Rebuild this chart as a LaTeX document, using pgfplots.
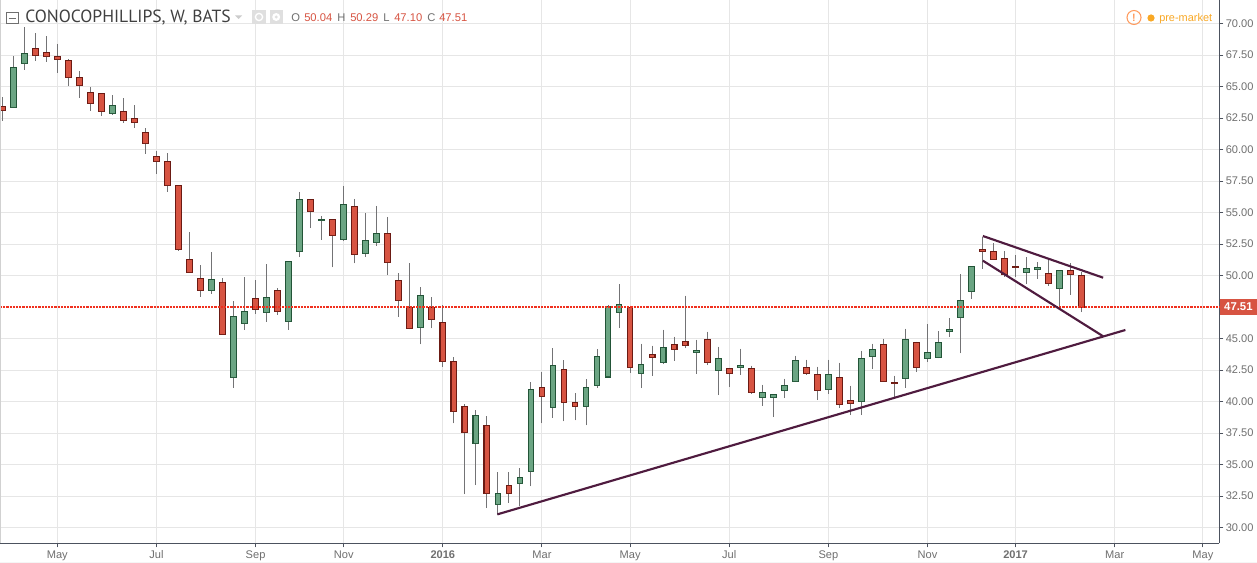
\documentclass[border=0pt]{standalone}
\usepackage{fontspec}
\setmainfont{Liberation Sans}
\newfontfamily\titlefont{PT Sans}
\usepackage{pgfplots}
\usepgfplotslibrary{statistics}
\pgfplotsset{compat=1.18}
\definecolor{upfill}{HTML}{6BA583}
\definecolor{upline}{HTML}{225437}
\definecolor{dnfill}{HTML}{D75442}
\definecolor{dnline}{HTML}{6B1A13}
\definecolor{wick}{HTML}{737375}
\definecolor{gridc}{HTML}{E6E6E6}
\definecolor{axisc}{HTML}{4C525E}
\definecolor{labc}{HTML}{6F6F6F}
\definecolor{trend}{HTML}{4F1B3F}
\definecolor{lastprice}{HTML}{F0301E}
\definecolor{gold}{HTML}{F9A825}
\definecolor{iconc}{HTML}{FF9A5C}
\newcommand{\U}[5]{\addplot[boxplot prepared={draw direction=y,draw position=#1,lower whisker=#4,lower quartile=#2,median=#2,upper quartile=#5,upper whisker=#3},
  draw=upline,fill=upfill,line width=0.8pt,boxplot/every whisker/.style={draw=wick,line width=0.75pt},boxplot/every median/.style={draw=none}] coordinates {};}
\newcommand{\D}[5]{\addplot[boxplot prepared={draw direction=y,draw position=#1,lower whisker=#4,lower quartile=#5,median=#5,upper quartile=#2,upper whisker=#3},
  draw=dnline,fill=dnfill,line width=0.8pt,boxplot/every whisker/.style={draw=wick,line width=0.75pt},boxplot/every median/.style={draw=none}] coordinates {};}
\pgfplotsset{boxplot/box extend=0.52,boxplot/whisker extend=0}
\begin{document}
\begin{tikzpicture}
\path[use as bounding box,fill=white] (0pt,0pt) rectangle (942.75pt,-422.25pt);
\begin{axis}[
  at={(0pt,-407.475pt)},anchor=south west,
  scale only axis,width=914.6pt,height=407.475pt,
  xmin=-0.204,xmax=110.51,ymin=28.76,ymax=71.88,
  axis x line*=bottom,axis y line*=right,
  axis line style={draw=axisc,line width=0.8pt,-},
  xtick={5,14,23,31,40,49,57,66,75,84,92,101,109},
  xticklabels={May,Jul,Sep,Nov,\textbf{2016},Mar,May,Jul,Sep,Nov,\textbf{2017},Mar,May},
  ytick={30,32.5,35,37.5,40,42.5,45,50,52.5,55,57.5,60,62.5,65,67.5,70},
  yticklabel style={/pgf/number format/fixed,/pgf/number format/fixed zerofill,/pgf/number format/precision=2,/pgf/number format/assume math mode=true},
  scaled y ticks=false,
  tick label style={font=\fontsize{8.3}{10}\selectfont,text=labc},
  tick style={draw=axisc,line width=0.75pt},
  tick align=outside,major tick length=3pt,
  xticklabel style={yshift=1pt},
  yticklabel style={xshift=-1.8pt},
  grid=major,grid style={draw=gridc,line width=0.75pt},
  clip=false,
]
\D{0}{63.44}{64.18}{62.30}{63.10}
\U{1}{63.36}{67.43}{63.36}{66.53}
\U{2}{66.85}{69.71}{66.35}{67.65}
\D{3}{68.04}{69.26}{67.06}{67.49}
\D{4}{67.72}{69.02}{66.98}{67.38}
\D{5}{67.41}{68.39}{66.11}{67.14}
\D{6}{67.09}{67.17}{65.08}{65.71}
\D{7}{65.74}{66.24}{64.13}{65.08}
\D{8}{64.55}{64.95}{63.10}{63.68}
\D{9}{64.47}{64.47}{62.70}{63.04}
\U{10}{62.88}{64.31}{62.78}{63.52}
\D{11}{63.04}{64.07}{62.14}{62.33}
\D{12}{62.49}{63.52}{61.75}{62.17}
\D{13}{61.38}{61.69}{59.68}{60.50}
\D{14}{59.47}{59.87}{58.10}{59.07}
\D{15}{59.07}{59.71}{56.67}{57.17}
\D{16}{57.17}{57.17}{51.98}{52.09}
\D{17}{51.30}{53.44}{50.26}{50.26}
\D{18}{49.79}{50.82}{48.33}{48.84}
\U{19}{48.84}{51.85}{48.57}{49.71}
\D{20}{49.47}{49.79}{45.34}{45.34}
\U{21}{41.93}{47.96}{41.11}{46.77}
\U{22}{46.22}{49.87}{45.69}{47.17}
\D{23}{48.20}{49.63}{46.98}{47.33}
\U{24}{47.09}{50.90}{46.35}{48.28}
\D{25}{48.84}{49.00}{46.90}{47.17}
\U{26}{46.38}{51.14}{45.69}{51.14}
\U{27}{51.90}{56.66}{51.47}{56.03}
\D{28}{56.03}{56.03}{53.78}{55.12}
\U{29}{54.40}{54.72}{52.87}{54.46}
\D{30}{54.48}{54.48}{50.65}{53.21}
\U{31}{52.90}{57.13}{52.79}{55.67}
\D{32}{55.52}{56.10}{50.97}{51.71}
\U{33}{51.79}{54.96}{51.52}{52.82}
\U{34}{52.66}{55.54}{52.39}{53.37}
\D{35}{53.37}{54.67}{50.09}{51.07}
\D{36}{49.64}{50.20}{46.76}{48.06}
\D{37}{47.50}{50.99}{45.73}{45.83}
\U{38}{45.91}{49.09}{44.54}{48.45}
\D{39}{47.50}{48.29}{45.81}{46.55}
\D{40}{46.31}{47.66}{42.79}{43.21}
\D{41}{43.21}{43.53}{38.27}{39.25}
\D{42}{39.64}{39.80}{32.66}{37.58}
\U{43}{36.71}{39.33}{33.37}{38.93}
\D{44}{38.13}{38.85}{31.55}{32.74}
\U{45}{31.87}{34.40}{30.99}{32.74}
\D{46}{33.37}{34.40}{31.97}{32.74}
\U{47}{33.53}{34.72}{31.73}{34.01}
\U{48}{34.48}{41.55}{33.27}{40.99}
\D{49}{41.15}{42.34}{38.27}{40.44}
\U{50}{39.56}{44.25}{38.74}{42.90}
\D{51}{42.58}{43.29}{38.43}{39.96}
\D{52}{39.96}{40.67}{38.51}{39.64}
\U{53}{39.64}{41.79}{38.11}{41.15}
\U{54}{41.31}{44.17}{41.12}{43.61}
\U{55}{41.96}{47.68}{41.96}{47.52}
\U{56}{47.06}{49.31}{45.85}{47.70}
\D{57}{47.46}{47.62}{42.28}{42.70}
\U{58}{42.22}{44.60}{41.08}{42.94}
\D{59}{43.73}{44.44}{42.04}{43.49}
\U{60}{43.10}{45.71}{42.99}{44.29}
\D{61}{44.52}{45.16}{43.23}{44.13}
\D{62}{44.76}{48.41}{44.26}{44.44}
\U{63}{43.89}{44.92}{42.20}{44.05}
\D{64}{44.92}{45.56}{42.91}{43.10}
\U{65}{42.46}{44.37}{40.53}{43.41}
\D{66}{42.62}{42.70}{41.16}{42.22}
\U{67}{42.70}{44.21}{42.12}{42.86}
\D{68}{42.62}{42.86}{40.61}{40.71}
\U{69}{40.32}{41.35}{39.66}{40.71}
\U{70}{40.32}{40.56}{38.78}{40.56}
\U{71}{40.87}{41.83}{40.29}{41.27}
\U{72}{41.59}{43.65}{41.59}{43.25}
\D{73}{42.70}{43.33}{42.12}{42.22}
\D{74}{42.14}{42.78}{40.13}{40.87}
\U{75}{40.95}{43.33}{40.61}{42.14}
\D{76}{41.90}{43.10}{39.50}{39.76}
\D{77}{40.08}{41.27}{38.94}{39.84}
\U{78}{40.00}{44.05}{38.94}{43.41}
\U{79}{43.57}{44.60}{42.59}{44.13}
\D{80}{44.52}{45.00}{41.59}{41.59}
\D{81}{41.51}{42.06}{40.32}{41.43}
\U{82}{41.83}{45.79}{41.11}{44.92}
\D{83}{44.68}{44.76}{42.35}{42.70}
\U{84}{43.44}{46.14}{43.17}{43.92}
\U{85}{43.52}{45.58}{43.44}{44.71}
\U{86}{45.58}{46.61}{45.16}{45.74}
\U{87}{46.69}{50.11}{43.84}{48.04}
\U{88}{48.76}{50.74}{48.17}{50.74}
\D{89}{52.09}{53.10}{50.56}{51.93}
\D{90}{51.93}{52.57}{51.30}{51.30}
\D{91}{51.38}{51.93}{49.92}{50.11}
\D{92}{50.74}{51.61}{49.92}{50.66}
\U{93}{50.26}{51.46}{49.37}{50.58}
\U{94}{50.50}{51.06}{49.76}{50.66}
\D{95}{50.19}{51.30}{49.21}{49.39}
\U{96}{48.99}{50.42}{47.33}{50.42}
\D{97}{50.42}{50.98}{48.49}{50.11}
\D{98}{50.04}{50.29}{47.10}{47.51}
% last price
\addplot[draw=lastprice,line width=1.1pt,dash pattern=on 1.6pt off 0.8pt] coordinates {(-0.204,47.51)(110.51,47.51)};
% trend lines
\addplot[draw=trend,line width=1.6pt] coordinates {(44.96,31.06)(101.97,45.69)};
\addplot[draw=trend,line width=1.6pt] coordinates {(89.03,53.15)(99.95,49.84)};
\addplot[draw=trend,line width=1.6pt] coordinates {(89.03,51.19)(99.95,45.19)};
\node[anchor=west,fill=dnfill,text=white,inner xsep=2.2pt,inner ysep=0pt,minimum height=11.8pt,minimum width=28pt,font=\fontsize{8.5}{10}\selectfont\bfseries] at (axis cs:110.51,47.51) {47.51};
\end{axis}
\begin{scope}[x=0.75pt,y=-0.75pt]
\fill[black!4] (0,561.7) rectangle (1257,563);
\draw[draw=gridc!80!gray,line width=0.9pt] (0.5,0) -- (0.5,543);
\draw[draw=labc,line width=0.65pt] (6.5,12.5) rectangle (18,23.5);
\draw[draw=labc,line width=0.65pt] (8.5,18) -- (16,18);
\node[anchor=base west,inner sep=0pt,text=black!75,font=\titlefont\fontsize{13.2}{15}\selectfont] at (25,23) {CONOCOPHILLIPS, W, BATS};
\fill[gray!40] (235,15.5) -- (242,15.5) -- (238.5,19) -- cycle;
\fill[gray!25] (252,10) rectangle (266,24);
\fill[gray!25] (269.5,10) rectangle (283,24);
\draw[white,line width=1pt] (259,17) circle (3.6);
\fill[white] (276.2,17) circle (4);
\fill[gray!25] (276.2,17) circle (1.6);
\node[anchor=base west,inner sep=0pt,font=\fontsize{8.4}{11}\selectfont,text=labc] at (291,22) {O};
\node[anchor=base west,inner sep=0pt,font=\fontsize{8.4}{11}\selectfont,text=dnfill] at (304,22) {50.04};
\node[anchor=base west,inner sep=0pt,font=\fontsize{8.4}{11}\selectfont,text=labc] at (337,22) {H};
\node[anchor=base west,inner sep=0pt,font=\fontsize{8.4}{11}\selectfont,text=dnfill] at (350,22) {50.29};
\node[anchor=base west,inner sep=0pt,font=\fontsize{8.4}{11}\selectfont,text=labc] at (383,22) {L};
\node[anchor=base west,inner sep=0pt,font=\fontsize{8.4}{11}\selectfont,text=dnfill] at (394,22) {47.10};
\node[anchor=base west,inner sep=0pt,font=\fontsize{8.4}{11}\selectfont,text=labc] at (427,22) {C};
\node[anchor=base west,inner sep=0pt,font=\fontsize{8.4}{11}\selectfont,text=dnfill] at (439,22) {47.51};
\draw[iconc,line width=0.8pt] (1134,17.5) circle (7);
\node[inner sep=0pt,text=iconc,font=\fontsize{8}{9}\selectfont\bfseries] at (1134,17.5) {!};
\fill[gold] (1151,18) circle (3.6);
\node[anchor=base west,inner sep=0pt,text=gold,font=\fontsize{8.2}{10}\selectfont] at (1159,21.5) {pre-market};
\end{scope}
\end{tikzpicture}
\end{document}
